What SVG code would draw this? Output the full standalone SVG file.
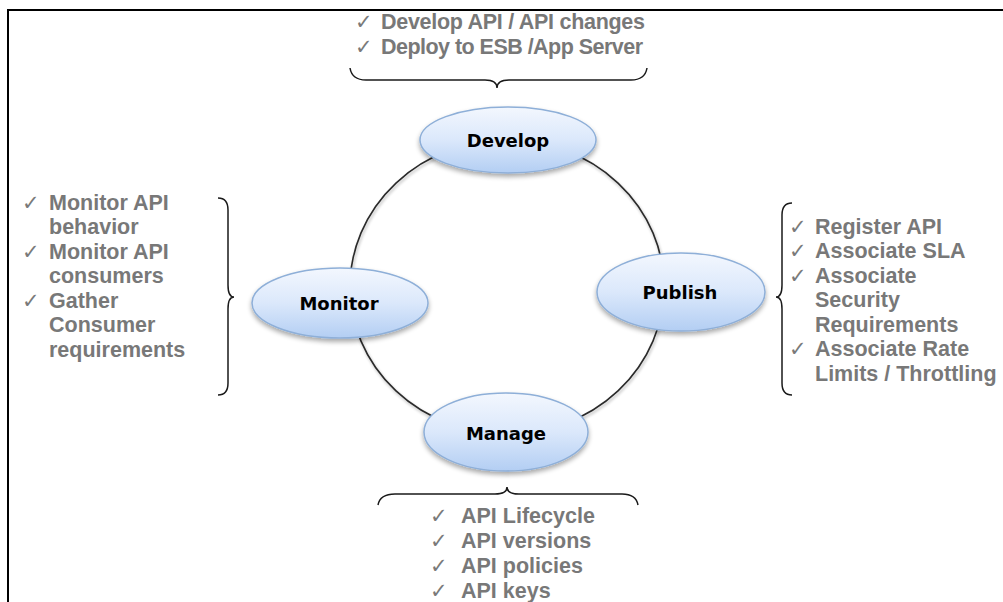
<svg xmlns="http://www.w3.org/2000/svg" width="1003" height="602" viewBox="0 0 1003 602">
<style>
.frame{stroke:#000;stroke-width:2;fill:none}
.arc{fill:none;stroke:#2a2a2a;stroke-width:1.6}
.brace{fill:none;stroke:#1a1a1a;stroke-width:1.5}
.node{fill:url(#ng);stroke:#8eafd8;stroke-width:1.5}
.lbl{font-family:"DejaVu Sans",sans-serif;font-weight:bold;font-size:18px;fill:#000;text-anchor:middle}
.it{font-family:"Liberation Sans",Arial,sans-serif;font-weight:bold;font-size:21.5px;fill:#787878}
.ck{font-family:"DejaVu Sans",sans-serif;font-size:21px;fill:#7a7a7a}
</style>
<defs>
<linearGradient id="ng" x1="0" y1="0" x2="0" y2="1">
<stop offset="0" stop-color="#f3f7fe"/>
<stop offset="0.5" stop-color="#dbe8fb"/>
<stop offset="1" stop-color="#b3cef3"/>
</linearGradient>
<filter id="sh" x="-20%" y="-20%" width="140%" height="160%">
<feGaussianBlur in="SourceAlpha" stdDeviation="2.5"/>
<feOffset dx="0" dy="3" result="b"/>
<feComponentTransfer><feFuncA type="linear" slope="0.35"/></feComponentTransfer>
<feMerge><feMergeNode/><feMergeNode in="SourceGraphic"/></feMerge>
</filter>
<filter id="lsh" x="-10%" y="-10%" width="120%" height="120%">
<feGaussianBlur in="SourceAlpha" stdDeviation="1.5"/>
<feOffset dx="1" dy="2"/>
<feComponentTransfer><feFuncA type="linear" slope="0.3"/></feComponentTransfer>
<feMerge><feMergeNode/><feMergeNode in="SourceGraphic"/></feMerge>
</filter>
</defs>
<rect width="1003" height="602" fill="#fff"/>
<path class="frame" d="M8 602 V10 H1003"/>

<g id="connectors" filter="url(#lsh)">
<path class="arc" d="M507 140 A157 147 0 0 0 350 287"/>
<path class="arc" d="M350 287 A157 147 0 0 0 507 434"/>
<path class="arc" d="M507 434 A157 147 0 0 0 664 287"/>
<path class="arc" d="M664 287 A157 147 0 0 0 507 140"/>
</g>

<g id="node-develop">
<ellipse class="node" cx="508" cy="140" rx="88" ry="33" filter="url(#sh)"/>
<text class="lbl" x="508" y="147">Develop</text>
</g>
<g id="node-monitor">
<ellipse class="node" cx="340" cy="303" rx="88" ry="35" filter="url(#sh)"/>
<text class="lbl" x="339" y="310">Monitor</text>
</g>
<g id="node-publish">
<ellipse class="node" cx="681" cy="292" rx="84" ry="39" filter="url(#sh)"/>
<text class="lbl" x="680" y="299">Publish</text>
</g>
<g id="node-manage">
<ellipse class="node" cx="506" cy="432" rx="82" ry="39" filter="url(#sh)"/>
<text class="lbl" x="506" y="440">Manage</text>
</g>

<g id="list-develop">
<path class="brace" d="M350 68 Q352 80 366 80 L485 80 Q497 80 497 88 Q497 80 509 80 L631 80 Q645 80 647 68"/>
<text class="ck" x="355" y="29">✓</text><text class="it" x="381" y="29" textLength="264">Develop API / API changes</text>
<text class="ck" x="355" y="54">✓</text><text class="it" x="381" y="54" textLength="262">Deploy to ESB /App Server</text>
</g>

<g id="list-monitor">
<path class="brace" d="M218 198 Q228 198 228 210 L228 285 Q228 297 234 297 Q228 297 228 309 L228 383 Q228 395 218 395"/>
<text class="ck" x="22" y="210">✓</text><text class="it" x="49" y="210">Monitor API</text>
<text class="it" x="49" y="234">behavior</text>
<text class="ck" x="22" y="259">✓</text><text class="it" x="49" y="259">Monitor API</text>
<text class="it" x="49" y="283">consumers</text>
<text class="ck" x="22" y="308">✓</text><text class="it" x="49" y="308">Gather</text>
<text class="it" x="49" y="332">Consumer</text>
<text class="it" x="49" y="357">requirements</text>
</g>

<g id="list-publish">
<path class="brace" d="M792 203 Q782 203 782 215 L782 285 Q782 297 776 297 Q782 297 782 309 L782 383 Q782 395 792 395"/>
<text class="ck" x="789" y="234">✓</text><text class="it" x="815" y="234">Register API</text>
<text class="ck" x="789" y="258">✓</text><text class="it" x="815" y="258">Associate SLA</text>
<text class="ck" x="789" y="283">✓</text><text class="it" x="815" y="283">Associate</text>
<text class="it" x="815" y="307">Security</text>
<text class="it" x="815" y="332">Requirements</text>
<text class="ck" x="789" y="356">✓</text><text class="it" x="815" y="356">Associate Rate</text>
<text class="it" x="815" y="381">Limits / Throttling</text>
</g>

<g id="list-manage">
<path class="brace" d="M378 505 Q380 494 395 494 L495 494 Q507 494 507 487 Q507 494 519 494 L622 494 Q636 494 638 505"/>
<text class="ck" x="430" y="523">✓</text><text class="it" x="461" y="523">API Lifecycle</text>
<text class="ck" x="430" y="548">✓</text><text class="it" x="461" y="548">API versions</text>
<text class="ck" x="430" y="573">✓</text><text class="it" x="461" y="573">API policies</text>
<text class="ck" x="430" y="598">✓</text><text class="it" x="461" y="598">API keys</text>
</g>
</svg>
